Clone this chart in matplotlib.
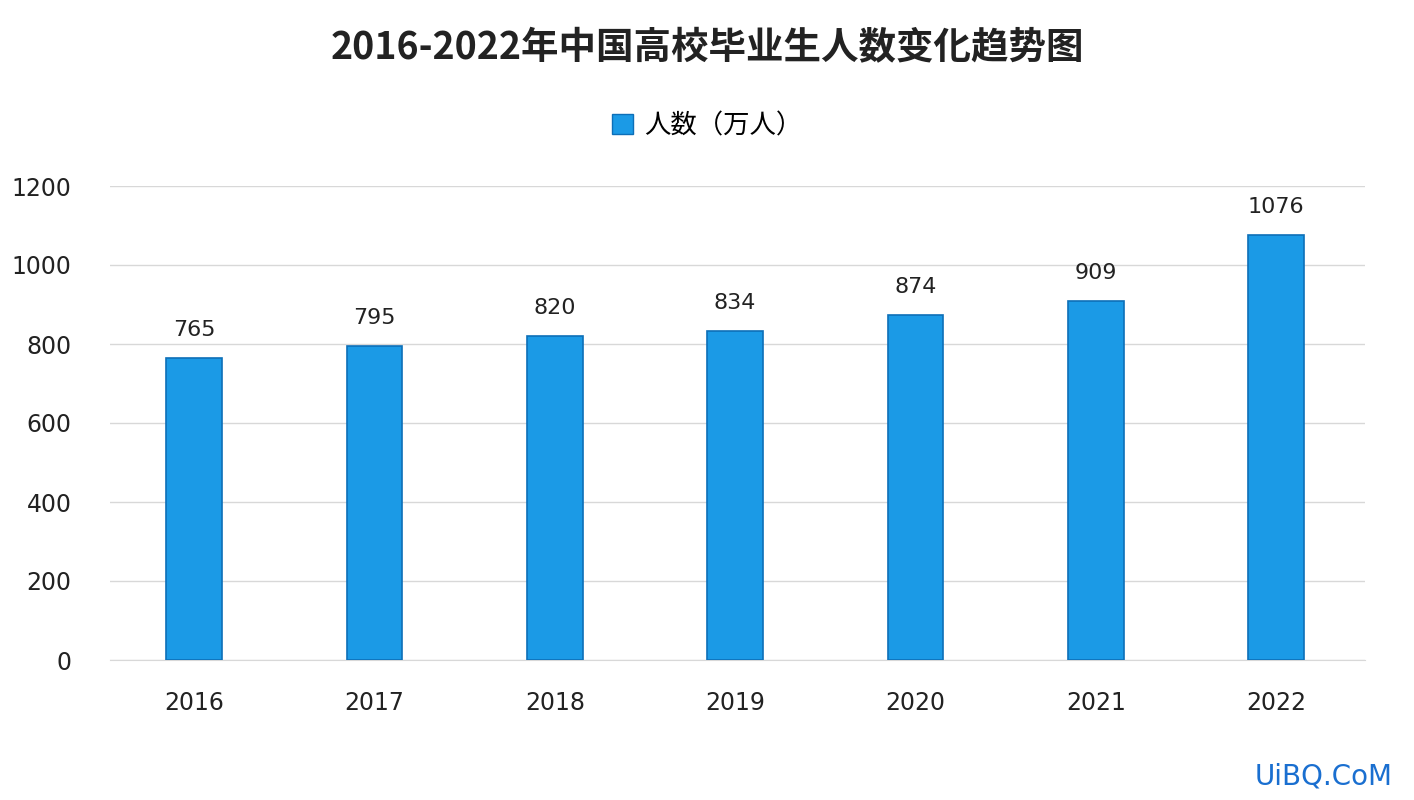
import matplotlib as mpl
mpl.use('Agg')
import matplotlib.pyplot as plt
import matplotlib.patches as mpatches
from matplotlib import rcParams, font_manager

# find an installed CJK font
cjk = [f for f in font_manager.fontManager.ttflist if 'CJK' in f.name]
names = sorted(set(f.name for f in cjk))
family = 'Noto Sans CJK SC' if 'Noto Sans CJK SC' in names else (names[0] if names else 'DejaVu Sans')
rcParams['font.family'] = [family, 'DejaVu Sans']

years = ['2016', '2017', '2018', '2019', '2020', '2021', '2022']
graduates = [765, 795, 820, 834, 874, 909, 1076]
yticks = [0, 200, 400, 600, 800, 1000, 1200]

fig = plt.figure(figsize=(14.14, 8), dpi=100)
ax = fig.add_axes([0.078, 0.175, 0.887, 0.5925])

x = range(len(years))
ax.bar(x, graduates, width=0.31, color='#1b9ae6', edgecolor='#0d6fb8', linewidth=1.2, zorder=3)
for xi, v in zip(x, graduates):
    ax.text(xi, v + 45, str(v), ha='center', va='bottom', fontsize=16, color='#222222',
            family='DejaVu Sans')

ax.set_xlim(-0.465, 6.49)
ax.set_ylim(0, 1200)
ax.set_yticks(yticks)
ax.set_xticks(list(x))
ax.set_xticklabels(years)
for lab in ax.get_xticklabels() + ax.get_yticklabels():
    lab.set_family('DejaVu Sans')
ax.tick_params(axis='both', length=0, labelsize=17, colors='#222222')
ax.tick_params(axis='x', pad=22)
ax.tick_params(axis='y', pad=28)
ax.grid(axis='y', color='#d8d8d8', linewidth=1, zorder=0)
for s in ['top', 'right', 'left']:
    ax.spines[s].set_visible(False)
ax.spines['bottom'].set_color('#d8d8d8')

fig.text(0.5, 0.94, '2016-2022年中国高校毕业生人数变化趋势图', ha='center', va='center',
         fontsize=27, fontweight='bold', color='#222222')
patch = mpatches.Patch(facecolor='#1b9ae6', edgecolor='#0d6fb8', label='人数（万人）')
fig.legend(handles=[patch], loc='center', bbox_to_anchor=(0.5, 0.843), frameon=False,
           fontsize=19, handlelength=0.8, handleheight=0.8, handletextpad=0.4)
fig.text(0.985, 0.03, 'UiBQ.CoM', ha='right', va='center', fontsize=20, color='#1a6fd0',
         family='DejaVu Sans')

plt.savefig('out.png', dpi=100)
